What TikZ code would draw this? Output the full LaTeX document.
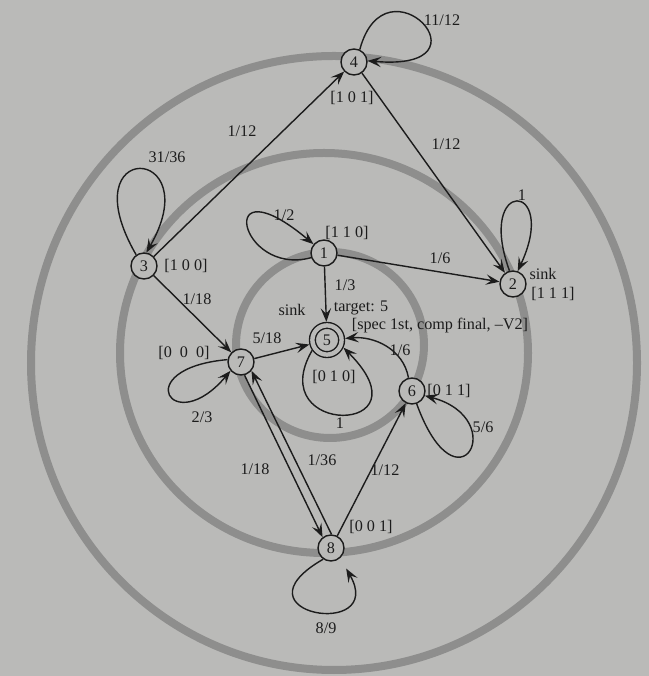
\documentclass[tikz,border=0pt]{standalone}
\usepackage{fontspec}
\setmainfont{Liberation Serif}
\usetikzlibrary{arrows.meta}
\definecolor{paper}{RGB}{186,186,184}
\definecolor{ring}{RGB}{142,142,141}
\definecolor{ink}{RGB}{28,28,28}
\begin{document}
\begin{tikzpicture}[x=0.025cm,y=0.025cm,font=\fontsize{11.5}{13}\selectfont,color=ink,line width=1pt,
  st/.style={draw,fill=paper,circle,minimum size=0.65cm,inner sep=0pt},
  target/.style={st,double=paper,double distance=0.11cm,minimum size=0.73cm,outer sep=0.09cm},
  lab/.style={inner sep=1pt},
  ringline/.style={draw=ring,line width=0.2cm},
  >={Stealth[length=3.4mm,width=2.6mm,inset=1.4mm]}]
\useasboundingbox (0,0) rectangle (649,676);
\fill[paper] (0,0) rectangle (649,676);
\draw[ringline] (330,331) ellipse (94 and 93);
\draw[ringline] (324,323) ellipse (204 and 200);
\draw[ringline] (334,313) ellipse (303 and 307);

\node[st] (n1) at (324,423) {1};
\node[st] (n2) at (513,392) {2};
\node[st] (n3) at (144,410) {3};
\node[st] (n4) at (354,614) {4};
\node[target] (n5) at (327,336) {5};
\node[st] (n6) at (412,285) {6};
\node[st] (n7) at (241,314) {7};
\node[st] (n8) at (331,128) {8};

\node[lab] (t4) at (352,578) {[1 0 1]};
\node[lab] (t3) at (186,410) {[1 0 0]};
\node[lab] (t1) at (347,443) {[1 1 0]};
\node[lab] (s2) at (543,402) {sink};
\node[lab] (t2) at (553,382) {[1 1 1]};
\node[lab] (s5) at (292,366) {sink};
\node[lab] (g5) at (361,368) {target: 5};
\node[lab] (c5) at (440,350) {[spec 1st, comp final, –V2]};
\node[lab] (t5) at (334,299) {[0 1 0]};
\node[lab] (t7) at (184,323) {[0\enspace 0\enspace 0]};
\node[lab] (t6) at (449,285) {[0 1 1]};
\node[lab] (t8) at (371,149) {[0 0 1]};

\node[lab] (p44) at (442,656) {11/12};
\node[lab] (p33) at (167,519) {31/36};
\node[lab] (p34) at (242,545) {1/12};
\node[lab] (p42) at (446,532) {1/12};
\node[lab] (p11) at (284,461) {1/2};
\node[lab] (p12) at (440,418) {1/6};
\node[lab] (p22) at (522,481) {1};
\node[lab] (p15) at (345,391) {1/3};
\node[lab] (p37) at (197,377) {1/18};
\node[lab] (p75) at (267,338) {5/18};
\node[lab] (p77) at (202,259) {2/3};
\node[lab] (p55) at (340,253) {1};
\node[lab] (p65) at (400,326) {1/6};
\node[lab] (p66) at (483,249) {5/6};
\node[lab] (p78) at (255,207) {1/18};
\node[lab] (p87) at (322,216) {1/36};
\node[lab] (p86) at (385,206) {1/12};
\node[lab] (p88) at (326,48) {8/9};

\draw[->] (n3) -- (n4);
\draw[->] (n4) -- (n2);
\draw[->] (n1) -- (n2);
\draw[->] (n1) -- (n5);
\draw[->] (n3) -- (n7);
\draw[->] (n7) -- (n5);
\draw[->] (n8) -- (n6);
\draw[->] (n7.-75) -- (n8.128);
\draw[->] (n8.88) -- (n7.-40);
\draw[->] (n6.105) to[out=100,in=5] (n5);

\draw[->] (n4.65) .. controls +(75:100) and +(-5:130) .. (n4.5);
\draw[->] (n3.125) .. controls +(120:135) and +(60:125) .. (n3.80);
\draw[->] (n2.105) .. controls +(110:100) and +(65:100) .. (n2.70);
\draw[->] (n1.200) .. controls +(195:75) and +(140:130) .. (n1.140);
\draw[->] (n5.215) .. controls +(240:100) and +(-45:125) .. (n5.-25);
\draw[->] (n7.170) .. controls +(185:100) and +(230:90) .. (n7.220);
\draw[->] (n6.-70) .. controls +(-70:120) and +(-15:90) .. (n6.-20);
\draw[->,shorten >=0.3cm] (n8.235) .. controls +(210:110) and +(-60:95) .. (n8.-48);
\end{tikzpicture}
\end{document}
